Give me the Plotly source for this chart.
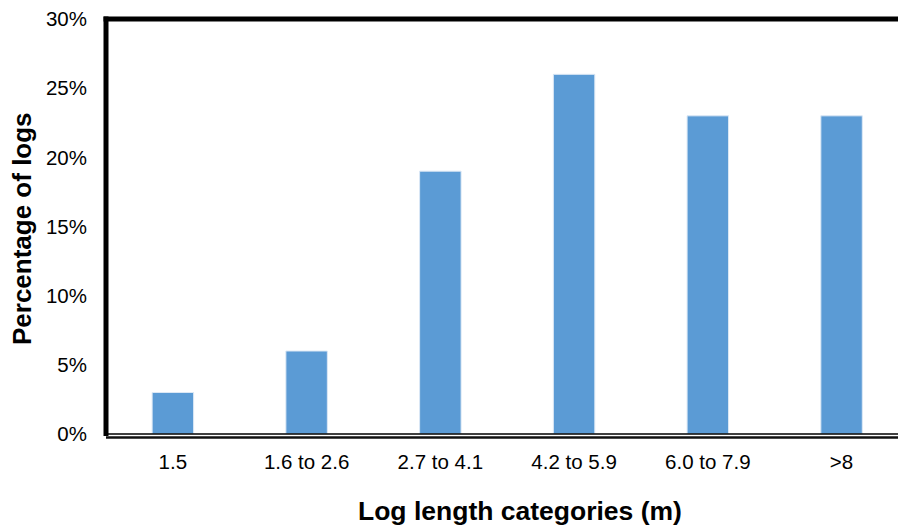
import plotly.graph_objects as go

categories = ["1.5", "1.6 to 2.6", "2.7 to 4.1", "4.2 to 5.9", "6.0 to 7.9", ">8"]
percent_logs = [3, 6, 19, 26, 23, 23]
y_tick_vals = [0, 5, 10, 15, 20, 25, 30]
y_tick_text = ["0%", "5%", "10%", "15%", "20%", "25%", "30%"]

FONT = "Liberation Sans, Arial, sans-serif"

fig = go.Figure()
fig.add_trace(go.Bar(
    x=list(range(len(categories))),
    y=percent_logs,
    width=0.31,
    marker=dict(color="#5B9BD5", line=dict(color="#DCE8F5", width=1)),
    hoverinfo="skip",
))

fig.update_layout(
    width=898, height=525,
    margin=dict(l=106, r=0, t=19, b=91),
    paper_bgcolor="white", plot_bgcolor="white",
    showlegend=False,
    font=dict(family=FONT, color="#000000"),
    xaxis=dict(
        range=[-0.5, 5.422],
        tickmode="array", tickvals=list(range(len(categories))), ticktext=categories,
        tickfont=dict(size=20.5, family=FONT, color="#000"),
        showgrid=False, zeroline=False, showline=False, ticks="",
        ticklabelstandoff=13,
        fixedrange=True,
    ),
    yaxis=dict(
        range=[0, 30],
        tickmode="array", tickvals=y_tick_vals, ticktext=y_tick_text,
        tickfont=dict(size=20.5, family=FONT, color="#000"),
        showgrid=False, zeroline=False, showline=False, ticks="",
        ticklabelstandoff=18,
        fixedrange=True,
    ),
    shapes=[
        # top border
        dict(type="line", xref="paper", yref="paper", x0=-0.0031, x1=1, y0=1, y1=1,
             line=dict(color="black", width=5)),
        # left border
        dict(type="line", xref="paper", yref="paper", x0=0, x1=0, y0=-0.005, y1=1.006,
             line=dict(color="black", width=5)),
        # baseline
        dict(type="line", xref="paper", yref="paper", x0=0, x1=1, y0=0, y1=0,
             line=dict(color="black", width=1.5)),
        # lower axis line
        dict(type="line", xref="paper", yref="paper", x0=0, x1=1, y0=-0.0084, y1=-0.0084,
             line=dict(color="#111", width=2.5)),
    ],
    annotations=[
        dict(text="<b>Log length categories (m)</b>", xref="paper", yref="paper",
             x=0.523, y=-0.185, xanchor="center", yanchor="middle", showarrow=False,
             font=dict(size=26.5, family=FONT, color="#000")),
        dict(text="<b>Percentage of logs</b>", xref="paper", yref="paper",
             x=-0.106, y=0.494, xanchor="center", yanchor="middle", showarrow=False,
             textangle=-90, font=dict(size=26, family=FONT, color="#000")),
    ],
)

fig.write_html("out.html")
